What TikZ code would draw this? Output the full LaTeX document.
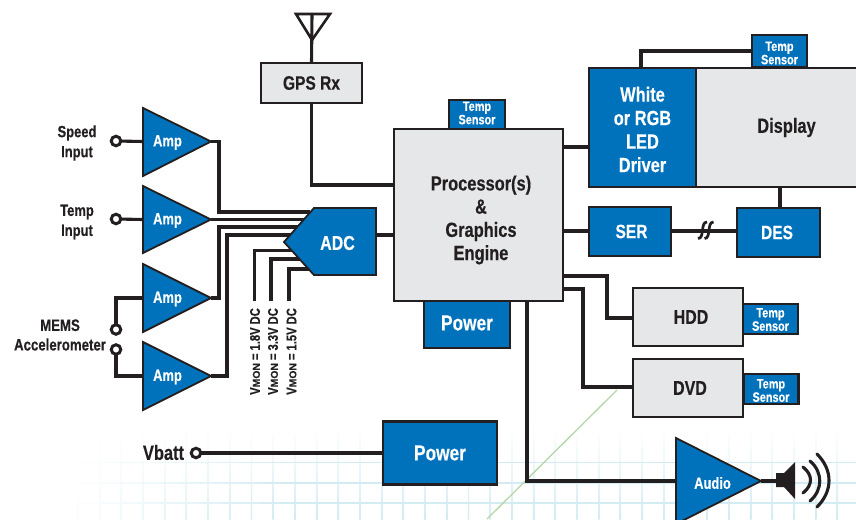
\documentclass[tikz,border=0pt]{standalone}
\usepackage{fontspec}
\setmainfont{Liberation Sans}[FakeStretch=0.8,BoldFeatures={FakeBold=0.3}]
\usetikzlibrary{calc}
\definecolor{ink}{HTML}{231F20}
\definecolor{bluefill}{HTML}{0072BC}
\definecolor{greyfill}{HTML}{E6E7E8}
\definecolor{gridcol}{HTML}{D3EBF2}
\definecolor{greenline}{HTML}{B5D6A7}
\newcommand{\fs}[1]{\pgfmathparse{#1*1.08}\fontsize{\pgfmathresult}{\pgfmathresult}\selectfont\bfseries}
\pgfdeclarelayer{bggrid}
\pgfdeclarelayer{conn}
\pgfsetlayers{bggrid,conn,main}
\tikzset{
  bluebox/.style={draw=ink,line width=2.5pt,fill=bluefill,text=white,inner sep=0pt,outer sep=0pt,align=center},
  greybox/.style={draw=ink,line width=2.5pt,fill=greyfill,text=ink,inner sep=0pt,outer sep=0pt,align=center},
  wire/.style={draw=ink,line width=3.1pt,line join=miter},
  ampshape/.style={draw=ink,line width=1.8pt,fill=bluefill,line join=miter},
  lbl/.style={text=ink,inner sep=0pt,align=center},
  wlbl/.style={text=white,inner sep=0pt,align=center},
  term/.style={circle,draw=ink,line width=3pt,fill=white,minimum size=9.5pt,inner sep=0pt,outer sep=0pt},
  senstext/.style={wlbl,font=\fs{12.6},execute at begin node={\baselineskip=12pt}},
  vmon/.style={lbl,rotate=90,anchor=west,font=\fs{13}}
}
\newcommand{\vm}[1]{V{\fontsize{10}{10}\selectfont\scalebox{1.3}[1]{MON}}\hspace{3pt}=\hspace{3pt}#1V\hspace{3pt}DC}
\begin{document}
\begin{tikzpicture}[x=1pt,y=-1pt]
\useasboundingbox (0,0) rectangle (856,519);
% faint background
\begin{pgfonlayer}{bggrid}
  \fill[white] (0,0) rectangle (856,519);
  \foreach \i in {-3,...,33}{
    \pgfmathsetmacro{\gx}{143+21.7*\i}
    \pgfmathtruncatemacro{\gs}{max(0,min(100,(\gx-60)/2))}
    \shade[top color=white,bottom color=gridcol!\gs!white] (\gx-0.7,428) rectangle (\gx+0.7,519);
  }
  \foreach \gy/\gw in {462/0.8,483/2,503/2}{
    \foreach \k in {0,...,11}{
      \pgfmathtruncatemacro{\gs}{\k*9}
      \fill[gridcol!\gs!white] ({60+20*\k},\gy-\gw/2) rectangle ({80.5+20*\k},\gy+\gw/2);
    }
    \draw[gridcol,line width=\gw pt] (300,\gy) -- (856,\gy);
  }
  \draw[greenline,line width=1.3pt] (617,390) -- (487,519);
\end{pgfonlayer}

% blocks
\node[greybox,minimum width=101pt,minimum height=40pt,font=\fs{18}] (gps) at (311.5,83) {\raisebox{-3pt}{GPS Rx}};
\node[bluebox,minimum width=86pt,minimum height=50pt,font=\fs{20}] (pwra) at (467,323) {Power};
\node[greybox,minimum width=169pt,minimum height=172pt] (proc) at (478.5,215) {};
\node[lbl,font=\fs{19},execute at begin node={\baselineskip=23.2pt}] (proct) at (481,220) {Processor(s)\\\&\\Graphics\\Engine};
\node[bluebox,minimum width=56pt,minimum height=29pt] (tsp) at (477,114.5) {};
\node[senstext] at (477,113) {Temp\\Sensor};
\node[greybox,minimum width=165pt,minimum height=119pt,font=\fs{19},anchor=west] (disp) at (696,127.5) {\hspace*{16pt}\raisebox{-2.5pt}{Display}};
\node[bluebox,minimum width=107pt,minimum height=119pt] (drv) at (642.5,127.5) {};
\node[wlbl,font=\fs{19},execute at begin node={\baselineskip=23.5pt}] at (642.5,129.5) {White\\or RGB\\LED\\Driver};
\node[bluebox,minimum width=55pt,minimum height=32pt] (tsd) at (779.5,51) {};
\node[senstext] at (779.5,53) {Temp\\Sensor};
\node[bluebox,minimum width=82pt,minimum height=49pt,font=\fs{18}] (ser) at (630,231.5) {\hspace*{3pt}\raisebox{-2pt}{SER}};
\node[bluebox,minimum width=83pt,minimum height=49pt,font=\fs{18}] (des) at (778.5,232.5) {\hspace*{-3pt}\raisebox{-2pt}{DES}};
\node[greybox,minimum width=110pt,minimum height=58pt,font=\fs{18.5}] (hdd) at (688,317) {\hspace*{6pt}HDD};
\node[greybox,minimum width=110pt,minimum height=58pt,font=\fs{18.5}] (dvd) at (688,388) {\hspace*{4pt}DVD};
\node[bluebox,minimum width=55pt,minimum height=30pt] (tsh) at (770.5,319) {};
\node[senstext] at (770.5,319.5) {Temp\\Sensor};
\node[bluebox,minimum width=55pt,minimum height=30pt] (tsv) at (771,389) {};
\node[senstext] at (771,390.5) {Temp\\Sensor};
\node[bluebox,minimum width=114pt,minimum height=63pt,font=\fs{20}] (pwrb) at (440,453) {\raisebox{-1pt}{Power}};

% amplifiers, ADC and audio outlines
\foreach \nm/\ty/\by/\my in {a/108/176/141.5,b/186/253/219.5,c/264/332/298,d/342/410/376}{
  \fill[ampshape] (143,\ty) -- (143,\by) -- (211,\my) -- cycle;
  \coordinate (\nm-in) at (143,\my);
  \coordinate (\nm-tip) at (211,\my);
  \node[wlbl,font=\fs{15}] (amp\nm) at (167.5,\my+1) {Amp};
}
\fill[ampshape] (314,208) -- (376,208) -- (376,275) -- (314,275) -- (284,242) -- cycle;
\node[wlbl,font=\fs{18.5}] (adc) at (337.5,243) {ADC};
\fill[ampshape] (676,438) -- (761,481) -- (676,524) -- cycle;
\node[wlbl,font=\fs{15}] (aud) at (712.5,483) {Audio};

% terminals
\node[term] (t1) at (116,141) {};
\node[term] (t2) at (116,219) {};
\node[term] (t3) at (116,329.5) {};
\node[term] (t4) at (116,349.5) {};
\node[term] (t5) at (196,453) {};

% labels
\node[lbl,font=\fs{15},execute at begin node={\baselineskip=20pt}] (l1) at (77,143) {Speed\\Input};
\node[lbl,font=\fs{15},execute at begin node={\baselineskip=20pt}] (l2) at (77,222) {Temp\\Input};
\node[lbl,font=\fs{15.3},execute at begin node={\baselineskip=19.5pt}] (l3) at (60,335) {MEMS\\Accelerometer};
\node[lbl,font=\fs{19}] (l4) at (163.5,452.5) {Vbatt};
\node[vmon] (v1) at (255,395) {\vm{1.8}};
\node[vmon] (v2) at (273,395) {\vm{3.3}};
\node[vmon] (v3) at (291.5,395) {\vm{1.5}};

% free ends and ports
\coordinate (ant) at (312,14);
\coordinate (antL) at (296,14);
\coordinate (antR) at (330,14);
\coordinate (antB) at (312,40);
\coordinate (adc1) at (310,212);
\coordinate (adc2) at (310,219.5);
\coordinate (adc3) at (310,227);
\coordinate (adc4) at (310,235);
\coordinate (adc5) at (310,250.5);
\coordinate (adc6) at (310,259);
\coordinate (adc7) at (310,269);
\coordinate (adcR) at (376,235);
\coordinate (m1) at (254.5,301);
\coordinate (m2) at (271,301);
\coordinate (m3) at (289,301);
\coordinate (pl1) at (394,185);
\coordinate (pl2) at (394,235);
\coordinate (pr1) at (563,147);
\coordinate (pr2) at (563,231);
\coordinate (pr3) at (563,276);
\coordinate (pr4) at (563,289);
\coordinate (pb) at (527,301);
\coordinate (hddw) at (633,318);
\coordinate (dvdw) at (633,387);
\coordinate (audw) at (676,481);
\coordinate (audtip) at (761,481);
\coordinate (spk) at (776,481);

\begin{pgfonlayer}{conn}
  \draw[wire] (t1) -- (a-in);
  \draw[wire] (t2) -- (b-in);
  \draw[wire] (t3) -- ++(0,-31.5) -- (c-in);
  \draw[wire] (t4) -- ++(0,26.5) -- (d-in);
  \draw[wire] (t5) -- (pwrb);
  \draw[wire] (a-tip) -- (219,141.5) |- (adc1);
  \draw[wire] (b-tip) -- (adc2);
  \draw[wire] (c-tip) -- (219,298) |- (adc3);
  \draw[wire] (d-tip) -- (227,376) |- (adc4);
  \draw[wire] (m1) |- (adc5);
  \draw[wire] (m2) |- (adc6);
  \draw[wire] (m3) |- (adc7);
  \draw[wire] (adcR) -- (pl2);
  \draw[wire] (gps.south) |- (pl1);
  \draw[wire] (antB |- ant) -- (gps.north);
  \draw[wire] (pr1) -- (drv.west |- pr1);
  \draw[wire] (pr2) -- (ser.west |- pr2);
  \draw[wire] (drv.north) -- ++(-1.5,0) |- (tsd.west);
  \draw[wire] (780,187) -- (des.north -| 780,187);
  \draw[wire] (ser.east |- pr2) -- (des.west |- pr2);
  \draw[wire] (pr3) -| (607,318) -- (hddw);
  \draw[wire] (pr4) -| (583,387) -- (dvdw);
  \draw[wire] (pb) |- (audw);
  \draw[wire] (audtip) -- (spk);
\end{pgfonlayer}

% antenna
\draw[ink,line width=2.6pt,line join=miter] (antL) -- (antR) -- (antB) -- cycle;
% break mark
\draw[ink,line width=2.7pt] (698,238.5) .. controls (705,238.5) and (700,222) .. (707,222);
\draw[ink,line width=2.7pt] (704.5,238.5) .. controls (711.5,238.5) and (706.5,222) .. (713.5,222);
% loudspeaker
\fill[ink] (776,473) -- (784,473) -- (795,462) -- (795,499) -- (784,487) -- (776,487) -- cycle;
\draw[ink,line width=3.1pt,line cap=round] (803,467) .. controls (813,475) and (813,485) .. (803,493);
\draw[ink,line width=3.1pt,line cap=round] (810,461) .. controls (823,472) and (823,490) .. (810,501);
\draw[ink,line width=3.1pt,line cap=round] (817,454) .. controls (833,470) and (833,491) .. (817,507);
\end{tikzpicture}
\end{document}
